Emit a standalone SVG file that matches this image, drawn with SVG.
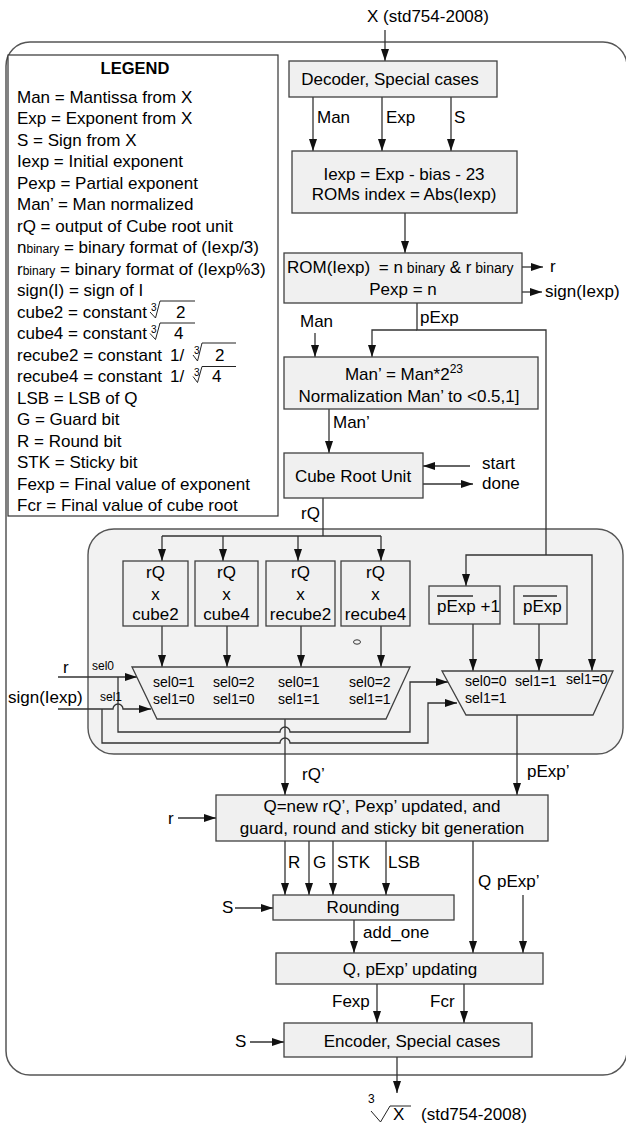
<svg xmlns="http://www.w3.org/2000/svg" width="626" height="1124" viewBox="0 0 626 1124">
<style>
text{font-family:"Liberation Sans",Arial,sans-serif;font-size:17px;fill:#000}
.c{text-anchor:middle}
.e{text-anchor:end}
.s{font-size:14px}
.xs{font-size:12px}
.r3{font-size:10px}
.sub{font-size:12px}
.sub2{font-size:14px}
.bx{fill:#f0f0f0;stroke:#404040;stroke-width:1.3}
.ln{fill:none;stroke:#333;stroke-width:1.3}
.ar{marker-end:url(#ah)}
.rad{fill:none;stroke:#222;stroke-width:1}
</style>
<defs>
<marker id="ah" markerUnits="userSpaceOnUse" markerWidth="12" markerHeight="8" refX="12" refY="4" orient="auto"><path d="M0,0 L12,4 L0,8 z" fill="#111"/></marker>
</defs>

<g id="frame">
<rect x="6" y="42" width="621" height="1033" rx="24" fill="none" stroke="#555" stroke-width="1.5"/>
</g>

<g id="legend">
<rect x="8" y="55" width="270" height="461" fill="#fff" stroke="#333" stroke-width="1.2"/>
<text x="135" y="74" class="c" font-weight="bold" style="font-size:16.5px">LEGEND</text>
<text x="17" y="102.5">Man = Mantissa from X</text>
<text x="17" y="124">Exp = Exponent from X</text>
<text x="17" y="145.5">S = Sign from X</text>
<text x="17" y="167">Iexp = Initial exponent</text>
<text x="17" y="188.5">Pexp = Partial exponent</text>
<text x="17" y="210">Man’ = Man normalized</text>
<text x="17" y="231.5">rQ = output of Cube root unit</text>
<text x="17" y="253">n<tspan class="sub">binary</tspan> = binary format of (Iexp/3)</text>
<text x="17" y="274.5">r<tspan class="sub">binary</tspan> = binary format of (Iexp%3)</text>
<text x="17" y="296">sign(I) = sign of I</text>
<text x="17" y="317.5">cube2 = constant</text>
<text x="151" y="311" class="r3">3</text>
<path class="rad" d="M150,312 L155.5,318 L160,301 H195"/>
<text x="176" y="317.5">2</text>
<text x="17" y="339">cube4 = constant</text>
<text x="151" y="332.5" class="r3">3</text>
<path class="rad" d="M150,333.5 L155.5,339.5 L160,323 H195"/>
<text x="174" y="339">4</text>
<text x="17" y="360.5">recube2 = constant</text>
<text x="170" y="360.5">1/</text>
<text x="194" y="354" class="r3">3</text>
<path class="rad" d="M193,355 L197.5,361 L202,343 H236"/>
<text x="215" y="360.5">2</text>
<text x="17" y="382">recube4 = constant</text>
<text x="170" y="382">1/</text>
<text x="194" y="375.5" class="r3">3</text>
<path class="rad" d="M193,376.5 L197.5,382.5 L202,366.5 H236"/>
<text x="212" y="382">4</text>
<text x="17" y="403.5">LSB = LSB of Q</text>
<text x="17" y="425">G = Guard bit</text>
<text x="17" y="446.5">R = Round bit</text>
<text x="17" y="468">STK = Sticky bit</text>
<text x="17" y="489.5">Fexp = Final value of exponent</text>
<text x="17" y="511">Fcr = Final value of cube root</text>
</g>

<g id="panel">
<rect x="88" y="529" width="535" height="225" rx="26" fill="#f2f2f2" stroke="#555" stroke-width="1.4"/>
</g>

<g id="connectors">
<path class="ln ar" d="M385,30 V61"/>
<path class="ln ar" d="M313,97 V151"/>
<path class="ln ar" d="M382,97 V151"/>
<path class="ln ar" d="M451,97 V151"/>
<path class="ln ar" d="M405,213 V253"/>
<path class="ln ar" d="M522,267 H543"/>
<path class="ln ar" d="M522,292 H542"/>
<path class="ln" d="M417,303 V330 H546 V555"/>
<path class="ln ar" d="M417,330 H372 V357"/>
<path class="ln ar" d="M546,555 H466 V586"/>
<path class="ln ar" d="M546,555 H592 V671"/>
<path class="ln ar" d="M315,333 V357"/>
<path class="ln ar" d="M329,409 V453"/>
<path class="ln ar" d="M470,466 H423"/>
<path class="ln ar" d="M423,484 H473"/>
<path class="ln" d="M323,498 V536 M162,536 H381"/>
<path class="ln ar" d="M162,536 V561"/>
<path class="ln ar" d="M223,536 V561"/>
<path class="ln ar" d="M298,536 V561"/>
<path class="ln ar" d="M381,536 V561"/>
<path class="ln ar" d="M162,626 V667"/>
<path class="ln ar" d="M227,626 V667"/>
<path class="ln ar" d="M301,626 V667"/>
<path class="ln ar" d="M381,626 V667"/>
<path class="ln ar" d="M473,624 V671"/>
<path class="ln ar" d="M539,624 V671"/>
<path class="ln ar" d="M58,677 H137"/>
<path class="ln ar" d="M118,677 V732 H280 a5,5 0 0 1 10,0 H410 V682 H448"/>
<path class="ln ar" d="M58,709 H113 a5,5 0 0 1 10,0 H151"/>
<path class="ln ar" d="M102,709 V743 H280 a5,5 0 0 1 10,0 H428 V703 H457"/>
<path class="ln ar" d="M285,719 V795"/>
<path class="ln ar" d="M517,715 V795"/>
<path class="ln ar" d="M178,818 H216"/>
<path class="ln ar" d="M285,841 V895"/>
<path class="ln ar" d="M309,841 V895"/>
<path class="ln ar" d="M333,841 V895"/>
<path class="ln ar" d="M386,841 V895"/>
<path class="ln ar" d="M473,841 V953"/>
<path class="ln ar" d="M523,895 V953"/>
<path class="ln ar" d="M235,908 H273"/>
<path class="ln ar" d="M354,920 V953"/>
<path class="ln ar" d="M377,984 V1023"/>
<path class="ln ar" d="M464,984 V1023"/>
<path class="ln ar" d="M250,1042 H284"/>
<path class="ln ar" d="M397,1057 V1093"/>
</g>

<g id="labels">
<text x="367" y="22">X (std754-2008)</text>
<text x="317" y="123">Man</text>
<text x="386" y="123">Exp</text>
<text x="454" y="123">S</text>
<text x="550" y="272">r</text>
<text x="545" y="297">sign(Iexp)</text>
<text x="420" y="323">pExp</text>
<text x="300" y="327">Man</text>
<text x="333" y="428">Man’</text>
<text x="482" y="469">start</text>
<text x="482" y="489">done</text>
<text x="320" y="519" class="e">rQ</text>
<text x="63" y="673">r</text>
<text x="8" y="703">sign(Iexp)</text>
<text x="92" y="670" class="xs">sel0</text>
<text x="100" y="701" class="xs">sel1</text>
<text x="302" y="780">rQ’</text>
<text x="527" y="777">pExp’</text>
<text x="168" y="824">r</text>
<text x="288" y="868">R</text>
<text x="313" y="868">G</text>
<text x="337" y="868">STK</text>
<text x="388" y="868">LSB</text>
<text x="478" y="887">Q</text>
<text x="497" y="887">pExp’</text>
<text x="222" y="913">S</text>
<text x="363" y="938">add_one</text>
<text x="332" y="1007">Fexp</text>
<text x="430" y="1007">Fcr</text>
<text x="235" y="1047">S</text>
<text x="368" y="1103" class="xs">3</text>
<path class="rad" d="M371,1111 L380.5,1122 L390,1106 H411" stroke-width="1.2"/>
<text x="393" y="1120">X</text>
<text x="421" y="1120">(std754-2008)</text>
<ellipse cx="357" cy="642" rx="3.5" ry="2.2" fill="none" stroke="#333" stroke-width="1"/>
</g>

<g id="decoder">
<rect class="bx" x="289" y="61" width="208" height="36"/>
<text x="390" y="85" class="c">Decoder, Special cases</text>
</g>
<g id="iexp">
<rect class="bx" x="292" y="151" width="225" height="62"/>
<text x="404" y="180" class="c">Iexp = Exp - bias - 23</text>
<text x="404" y="200" class="c">ROMs index = Abs(Iexp)</text>
</g>
<g id="rom">
<rect class="bx" x="284" y="253" width="238" height="50"/>
<text x="287" y="273">ROM(Iexp) <tspan dx="4">= n</tspan><tspan class="sub2"> binary</tspan> &amp; r<tspan class="sub2"> binary</tspan></text>
<text x="403" y="295" class="c">Pexp = n</text>
</g>
<g id="norm">
<rect class="bx" x="284" y="357" width="254" height="52"/>
<text x="404" y="380" class="c">Man’ = Man*2<tspan dy="-7" class="xs">23</tspan></text>
<text x="409" y="401.5" class="c">Normalization Man’ to &lt;0.5,1]</text>
</g>
<g id="cru">
<rect class="bx" x="284" y="453" width="139" height="45"/>
<text x="353" y="482" class="c">Cube Root Unit</text>
</g>
<g id="m1">
<rect class="bx" x="123" y="561" width="65" height="65"/>
<text x="155.5" y="578" class="c">rQ</text><text x="155.5" y="600" class="c">x</text><text x="155.5" y="620" class="c">cube2</text>
</g>
<g id="m2">
<rect class="bx" x="195" y="561" width="63" height="65"/>
<text x="226.5" y="578" class="c">rQ</text><text x="226.5" y="600" class="c">x</text><text x="226.5" y="620" class="c">cube4</text>
</g>
<g id="m3">
<rect class="bx" x="266" y="561" width="69" height="65"/>
<text x="300.5" y="578" class="c">rQ</text><text x="300.5" y="600" class="c">x</text><text x="300.5" y="620" class="c">recube2</text>
</g>
<g id="m4">
<rect class="bx" x="341" y="561" width="69" height="65"/>
<text x="375.5" y="578" class="c">rQ</text><text x="375.5" y="600" class="c">x</text><text x="375.5" y="620" class="c">recube4</text>
</g>
<g id="pexp1">
<rect class="bx" x="429" y="586" width="71" height="38"/>
<text x="437" y="612">pExp +1</text>
<path class="ln" d="M437,596 H473"/>
</g>
<g id="pexpn">
<rect class="bx" x="514" y="586" width="53" height="38"/>
<text x="523" y="612">pExp</text>
<path class="ln" d="M523,596 H557"/>
</g>
<g id="muxl">
<polygon class="bx" points="132,667 410,667 386,719 157,719"/>
<text x="153" y="687" class="s">sel0=1</text><text x="153" y="704" class="s">sel1=0</text>
<text x="213" y="687" class="s">sel0=2</text><text x="213" y="704" class="s">sel1=0</text>
<text x="278" y="687" class="s">sel0=1</text><text x="278" y="704" class="s">sel1=1</text>
<text x="349" y="687" class="s">sel0=2</text><text x="349" y="704" class="s">sel1=1</text>
</g>
<g id="muxr">
<polygon class="bx" points="442,671 613,671 593,715 466,715"/>
<text x="465" y="686" class="s">sel0=0</text><text x="465" y="703" class="s">sel1=1</text>
<text x="515" y="686" class="s">sel1=1</text>
<text x="566" y="684" class="s">sel1=0</text>
</g>
<g id="qgen">
<rect class="bx" x="216" y="795" width="332" height="46"/>
<text x="382" y="812" class="c">Q=new rQ’, Pexp’ updated, and</text>
<text x="382" y="834" class="c">guard, round and sticky bit generation</text>
</g>
<g id="rounding">
<rect class="bx" x="273" y="895" width="181" height="25"/>
<text x="363" y="913" class="c">Rounding</text>
</g>
<g id="update">
<rect class="bx" x="276" y="953" width="267" height="31"/>
<text x="410" y="975" class="c">Q, pExp’ updating</text>
</g>
<g id="encoder">
<rect class="bx" x="284" y="1023" width="248" height="34"/>
<text x="412" y="1047" class="c">Encoder, Special cases</text>
</g>
</svg>
